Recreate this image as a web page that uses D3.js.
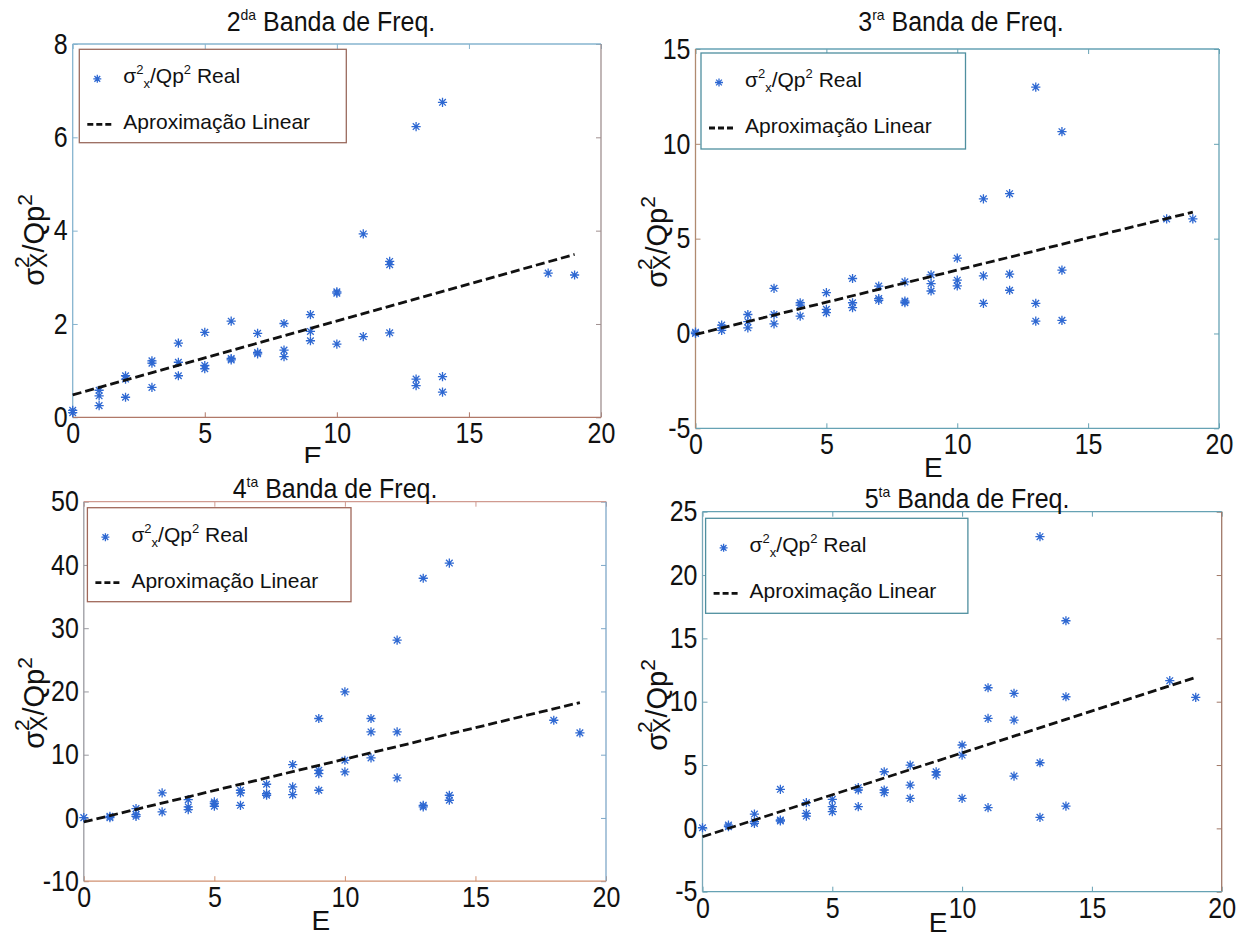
<!DOCTYPE html>
<html>
<head>
<meta charset="utf-8">
<script src="https://cdn.jsdelivr.net/npm/d3@7"></script>
<style>
  body { margin: 0; background: #fff; }
  svg { display: block; }
  text { font-family: "Liberation Sans", Arial, sans-serif; fill: #111; }
</style>
</head>
<body>
<div id="chart"></div>
<script>
// values: E (x) and sigma^2_X / Qp^2 (y) per band
const band2E = [0,0, 1,1,1, 2,2,2, 3,3,3, 4,4,4, 5,5,5, 6,6,6, 7,7,7, 8,8,8, 9,9,9, 10,10,10, 11,11, 12,12,12, 13,13,13, 14,14,14, 18, 19];
const band2Y = [0.15,0.1, 0.58,0.46,0.25, 0.89,0.82,0.43, 1.21,1.16,0.64, 1.59,1.18,0.89, 1.82,1.11,1.04, 2.06,1.26,1.23, 1.8,1.39,1.36, 2.01,1.44,1.3, 2.2,1.84,1.64, 2.69,2.66,1.57, 3.93,1.73, 3.34,3.27,1.81, 6.23,0.82,0.68, 6.75,0.87,0.54, 3.09, 3.05];

const band3E = [0,0, 1,1,1, 2,2,2, 3,3,3, 4,4,4, 5,5,5, 6,6,6, 7,7,7, 8,8,8, 9,9,9, 10,10,10, 11,11,11, 12,12,12, 13,13,13, 14,14,14, 18, 19];
const band3Y = [0.07,0.0, 0.44,0.3,0.16, 1.0,0.62,0.3, 2.38,1.0,0.51, 1.62,1.5,0.92, 2.15,1.27,1.1, 2.9,1.62,1.36, 2.5,1.84,1.75, 2.72,1.71,1.62, 3.09,2.63,2.24, 3.97,2.81,2.51, 7.1,3.04,1.59, 7.37,3.13,2.28, 12.99,1.59,0.65, 10.64,3.34,0.69, 6.04, 6.04];

const band4E = [0, 1,1, 2,2,2, 3,3, 4,4,4, 5,5,5, 6,6,6, 7,7,7, 8,8,8, 9,9,9,9, 10,10,10, 11,11,11, 12,12,12, 13,13,13, 14,14,14, 18, 19];
const band4Y = [0.05, 0.26,0.05, 1.48,0.53,0.26, 3.96,0.95, 2.9,1.74,1.32, 2.53,2.27,1.85, 4.38,3.96,2.0, 5.33,3.85,3.59, 8.44,4.9,3.69, 15.72,7.54,7.01,4.38, 19.94,9.12,7.28, 15.72,13.6,9.49, 28.1,13.6,6.33, 37.9,2.0,1.74, 40.3,3.59,2.8, 15.45, 13.45];

const band5E = [0, 1,1, 2,2,2, 3,3,3, 4,4,4, 5,5,5, 6,6,6, 7,7,7, 8,8,8, 9,9, 10,10,10, 11,11,11, 12,12,12, 13,13,13, 14,14,14, 18, 19];
const band5Y = [0.05, 0.26,0.13, 1.13,0.53,0.39, 3.08,0.66,0.58, 2.03,1.18,0.97, 2.29,1.71,1.32, 3.21,3.03,1.71, 4.47,3.03,2.82, 5.0,3.42,2.37, 4.47,4.21, 6.58,5.79,2.37, 11.1,8.68,1.63, 10.66,8.55,4.13, 23.03,5.18,0.87, 16.39,10.39,1.76, 11.66, 10.34];

// linear fit end points
const fit2 = [[0, 0.48], [19, 3.49]];
const fit3 = [[0, -0.05], [19, 6.4]];
const fit4 = [[0, -0.63], [19, 18.25]];
const fit5 = [[0, -0.66], [19, 11.92]];

const xTicks = [0, 5, 10, 15, 20];
const yTicks2 = [0, 2, 4, 6, 8];
const yTicks3 = [-5, 0, 5, 10, 15];
const yTicks4 = [-10, 0, 10, 20, 30, 40, 50];
const yTicks5 = [-5, 0, 5, 10, 15, 20, 25];

const titles = [["2", "da"], ["3", "ra"], ["4", "ta"], ["5", "ta"]];
const legendReal = "Real";
const legendFit = "Aproximação Linear";

const W = 1246, H = 939;
const starColor = "#2e68d2";

const svg = d3.select("#chart").append("svg")
  .attr("width", W).attr("height", H);
svg.append("rect").attr("width", W).attr("height", H).attr("fill", "#fff");

svg.append("defs").append("clipPath").attr("id", "clipTop")
  .append("rect").attr("x", 0).attr("y", 0).attr("width", W).attr("height", 463);

const panels = [
  { xs: band2E, ys: band2Y, fit: fit2, yTicks: yTicks2, title: titles[0],
    box: { l: 72.7, r: 601, t: 44, b: 417.3 }, titleX: 331, titleY: 31,
    frame: ["#86b4cf", "#a09090", "#b07868", "#86b4cf"],
    legend: { x: 79.3, y: 49.3, w: 267, h: 93.4, c: "#9a6a5e" },
    ylab: { x: 44, y: 240 }, elab: 49, clip: true },
  { xs: band3E, ys: band3Y, fit: fit3, yTicks: yTicks3, title: titles[1],
    box: { l: 695.5, r: 1219, t: 49, b: 428.3 }, titleX: 961, titleY: 31,
    frame: ["#66a2b4", "#66a2b4", "#66a2b4", "#b08a70"],
    legend: { x: 701, y: 53, w: 264.5, h: 96, c: "#4f8f9f" },
    ylab: { x: 667, y: 242 }, elab: 49 },
  { xs: band4E, ys: band4Y, fit: fit4, yTicks: yTicks4, title: titles[2],
    box: { l: 83.8, r: 606, t: 501.7, b: 881.2 }, titleX: 335, titleY: 498,
    frame: ["#d09a90", "#7fa8c8", "#d09070", "#9a9aa0"],
    legend: { x: 87.4, y: 507.7, w: 263.6, h: 94, c: "#a0685a" },
    ylab: { x: 44, y: 703 }, elab: 49 },
  { xs: band5E, ys: band5Y, fit: fit5, yTicks: yTicks5, title: titles[3],
    box: { l: 702.5, r: 1221.7, t: 511.7, b: 891.7 }, titleX: 967, titleY: 508,
    frame: ["#66a2b4", "#a07868", "#66a2b4", "#7aa8b8"],
    legend: { x: 705.6, y: 518.3, w: 262.3, h: 95, c: "#4f8f9f" },
    ylab: { x: 667, y: 705 }, elab: 40 }
];

function star(g, x, y, r) {
  const a = r * 0.72;
  g.append("path")
    .attr("d", `M${x - r},${y}H${x + r}M${x},${y - r}V${y + r}` +
      `M${x - a},${y - a}L${x + a},${y + a}M${x - a},${y + a}L${x + a},${y - a}`)
    .attr("stroke", starColor).attr("stroke-width", 1.3).attr("fill", "none");
}

function styleAxis(g, color) {
  g.select(".domain").remove();
  g.selectAll(".tick line").attr("stroke", color).attr("stroke-width", 1);
  g.selectAll(".tick text").attr("font-size", 25).attr("fill", "#111")
    .attr("font-family", "Liberation Sans, Arial, sans-serif")
    .attr("transform", "scale(1,1.15)");
}

const plain = d => String(d);

panels.forEach(p => {
  const b = p.box;
  const g = svg.append("g");

  const x = d3.scaleLinear().domain([0, 20]).range([b.l, b.r]);
  const y = d3.scaleLinear().domain(d3.extent(p.yTicks)).range([b.b, b.t]);

  // inward ticks on all four sides, labels on left and bottom
  g.append("g").attr("transform", `translate(0,${b.b})`)
    .call(d3.axisBottom(x).tickValues(xTicks).tickFormat(plain).tickSize(-5).tickPadding(5))
    .call(a => styleAxis(a, p.frame[2]));
  g.append("g").attr("transform", `translate(0,${b.t})`)
    .call(d3.axisTop(x).tickValues(xTicks).tickSize(-5).tickFormat(""))
    .call(a => styleAxis(a, p.frame[0]));
  g.append("g").attr("transform", `translate(${b.l},0)`)
    .call(d3.axisLeft(y).tickValues(p.yTicks).tickFormat(plain).tickSize(-5).tickPadding(5))
    .call(a => styleAxis(a, p.frame[3]));
  g.append("g").attr("transform", `translate(${b.r},0)`)
    .call(d3.axisRight(y).tickValues(p.yTicks).tickSize(-5).tickFormat(""))
    .call(a => styleAxis(a, p.frame[1]));

  // frame, one colour per side
  const sides = [
    [b.l, b.t, b.r, b.t], [b.r, b.t, b.r, b.b],
    [b.l, b.b, b.r, b.b], [b.l, b.t, b.l, b.b]
  ];
  sides.forEach((s, i) => {
    g.append("line").attr("x1", s[0]).attr("y1", s[1]).attr("x2", s[2]).attr("y2", s[3])
      .attr("stroke", p.frame[i]).attr("stroke-width", 1.3);
  });

  // data points
  p.xs.forEach((e, i) => star(g, x(e), y(p.ys[i]), 4.6));

  // linear approximation
  g.append("path")
    .datum(p.fit)
    .attr("d", d3.line().x(d => x(d[0])).y(d => y(d[1])))
    .attr("fill", "none").attr("stroke", "#111")
    .attr("stroke-width", 2.8).attr("stroke-dasharray", "9,4");

  // title
  const t = g.append("text")
    .attr("transform", `translate(${p.titleX},${p.titleY}) scale(1,1.08)`)
    .attr("text-anchor", "middle").attr("font-size", 25);
  t.append("tspan").text(p.title[0]);
  t.append("tspan").attr("font-size", 14).attr("dy", -10).text(p.title[1]);
  t.append("tspan").attr("dy", 10).text(" Banda de Freq.");

  // x label
  const xl = g.append("text")
    .attr("x", (b.l + b.r) / 2 - 24).attr("y", b.b + p.elab)
    .attr("text-anchor", "middle").attr("font-size", 28).text("E");
  if (p.clip) xl.attr("clip-path", "url(#clipTop)");

  // y label
  const yl = g.append("text")
    .attr("transform", `translate(${p.ylab.x},${p.ylab.y}) rotate(-90)`)
    .attr("text-anchor", "middle").attr("font-size", 29);
  yl.append("tspan").text("σ");
  yl.append("tspan").attr("font-size", 21).attr("dy", -15).text("2");
  yl.append("tspan").attr("font-size", 23).attr("dx", -11.7).attr("dy", 18).text("X");
  yl.append("tspan").attr("dy", -3).text("/Qp");
  yl.append("tspan").attr("font-size", 21).attr("dy", -12).text("2");

  // legend
  const L = p.legend;
  const lg = g.append("g");
  lg.append("rect").attr("x", L.x).attr("y", L.y).attr("width", L.w).attr("height", L.h)
    .attr("fill", "#fff").attr("stroke", L.c).attr("stroke-width", 1.3);
  star(lg, L.x + 18, L.y + 29.5, 4);
  const lt = lg.append("text").attr("x", L.x + 44).attr("y", L.y + 34).attr("font-size", 21);
  lt.append("tspan").text("σ");
  lt.append("tspan").attr("font-size", 13).attr("dy", -9).text("2");
  lt.append("tspan").attr("font-size", 13).attr("dy", 14).text("x");
  lt.append("tspan").attr("dy", -5).text("/Qp");
  lt.append("tspan").attr("font-size", 13).attr("dy", -9).text("2");
  lt.append("tspan").attr("dy", 9).text(" " + legendReal);
  lg.append("line").attr("x1", L.x + 8).attr("x2", L.x + 32)
    .attr("y1", L.y + 75).attr("y2", L.y + 75)
    .attr("stroke", "#111").attr("stroke-width", 2.8).attr("stroke-dasharray", "6,3");
  lg.append("text").attr("x", L.x + 44).attr("y", L.y + 80).attr("font-size", 21)
    .text(legendFit);
});
</script>
</body>
</html>
